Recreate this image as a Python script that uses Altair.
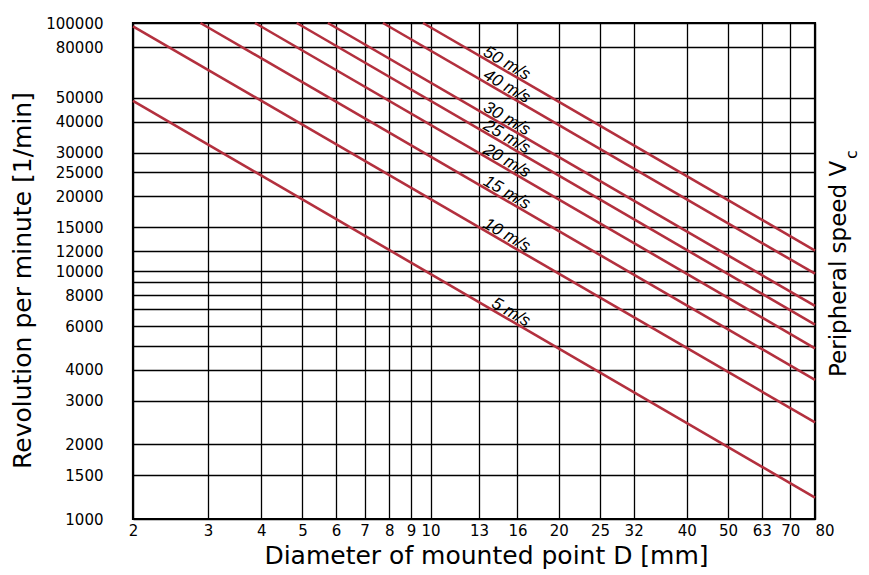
import altair as alt
import pandas as pd
import math

# Peripheral speed lines: start and end points
speeds = ["5 m/s", "10 m/s", "15 m/s", "20 m/s", "25 m/s", "30 m/s", "40 m/s", "50 m/s"]
d_start = [2, 2, 2.88, 3.87, 4.85, 5.74, 7.73, 9.6]
rpm_start = [48500, 97000, 100000, 100000, 100000, 100000, 100000, 100000]
d_end = [80, 80, 80, 80, 80, 80, 80, 80]
rpm_end = [1220, 2450, 3640, 4880, 6080, 7230, 9750, 12080]

# Where the labels end along each line
label_d = 16.8

x_ticks = [2, 3, 4, 5, 6, 7, 8, 9, 10, 13, 16, 20, 25, 30, 40, 50, 60, 70, 80]
y_ticks = [1000, 1500, 2000, 3000, 4000, 5000, 6000, 7000, 8000, 9000, 10000,
           12000, 15000, 20000, 25000, 30000, 40000, 50000, 80000, 100000]

rows = []
for s, d0, r0, d1, r1 in zip(speeds, d_start, rpm_start, d_end, rpm_end):
    rows.append({"speed": s, "D": d0, "rpm": r0})
    rows.append({"speed": s, "D": d1, "rpm": r1})
lines_df = pd.DataFrame(rows)

lab = []
for s, d0, r0, d1, r1 in zip(speeds, d_start, rpm_start, d_end, rpm_end):
    t = (math.log10(label_d) - math.log10(d0)) / (math.log10(d1) - math.log10(d0))
    lr = 10 ** (math.log10(r0) + t * (math.log10(r1) - math.log10(r0)))
    lab.append({"speed": s, "D": label_d, "rpm": lr * 1.025})
labels_df = pd.DataFrame(lab)

xscale = alt.Scale(type="log", domain=[2, 80], nice=False)
yscale = alt.Scale(type="log", domain=[1000, 100000], nice=False)

x_axis = alt.Axis(
    values=x_ticks,
    labelExpr="datum.value == 30 ? '32' : datum.value == 60 ? '63' : format(datum.value, 'd')",
    title="Diameter of mounted point D [mm]",
    titleX=353, titleY=44, titleAlign="center", titleBaseline="alphabetic",
    titleFontSize=25, titleFontWeight="normal", titleColor="black",
    labelFontSize=15, labelColor="black", labelPadding=4,
    labelOverlap=False, labelBound=False,
    labelAlign={"condition": {"test": "datum.value == 80", "value": "left"}, "value": "center"},
    ticks=False, tickSize=0, domain=False,
    grid=True, gridColor="black", gridWidth=1.3, gridOpacity=1,
)
y_axis = alt.Axis(
    values=y_ticks,
    labelExpr="indexof([9000, 7000, 5000], datum.value) >= 0 ? '' : format(datum.value, 'd')",
    title="Revolution per minute [1/min]",
    titleX=-103, titleY=257, titleAngle=270, titleAlign="center", titleBaseline="alphabetic",
    titleFontSize=25, titleFontWeight="normal", titleColor="black",
    labelFontSize=15, labelColor="black", labelPadding=30,
    labelOverlap=False, labelBound=False,
    ticks=False, tickSize=0, domain=False,
    grid=True, gridColor="black", gridWidth=1.3, gridOpacity=1,
)

lines = alt.Chart(lines_df).mark_line(color="#b3303e", strokeWidth=2.6).encode(
    x=alt.X("D:Q", scale=xscale, axis=x_axis),
    y=alt.Y("rpm:Q", scale=yscale, axis=y_axis),
    detail="speed:N",
)

labels = alt.Chart(labels_df).mark_text(
    angle=30, align="right", baseline="alphabetic", font="Liberation Sans",
    fontStyle="italic", fontSize=17, color="black",
).encode(
    x=alt.X("D:Q", scale=xscale),
    y=alt.Y("rpm:Q", scale=yscale),
    text="speed:N",
)

right_title = alt.Chart(pd.DataFrame({"t": ["Peripheral speed V"]})).mark_text(
    angle=270, align="left", baseline="alphabetic", font="DejaVu Sans",
    fontSize=23, color="black",
).encode(x=alt.value(713), y=alt.value(354), text="t:N")

right_sub = alt.Chart(pd.DataFrame({"t": ["c"]})).mark_text(
    angle=270, align="left", baseline="alphabetic", font="DejaVu Sans",
    fontSize=16, color="black",
).encode(x=alt.value(724), y=alt.value(136), text="t:N")

chart = alt.layer(lines, labels, right_title, right_sub).properties(
    width=682, height=496,
    padding={"left": 125, "top": 15, "right": 46, "bottom": 54},
    autosize=alt.AutoSizeParams(type="none"),
).configure(font="DejaVu Sans").configure_view(
    stroke="black", strokeWidth=2.2
).configure_axis(labelFont="DejaVu Sans", titleFont="DejaVu Sans")

chart.save("out.html", embed_options={"renderer": "svg", "actions": False})
